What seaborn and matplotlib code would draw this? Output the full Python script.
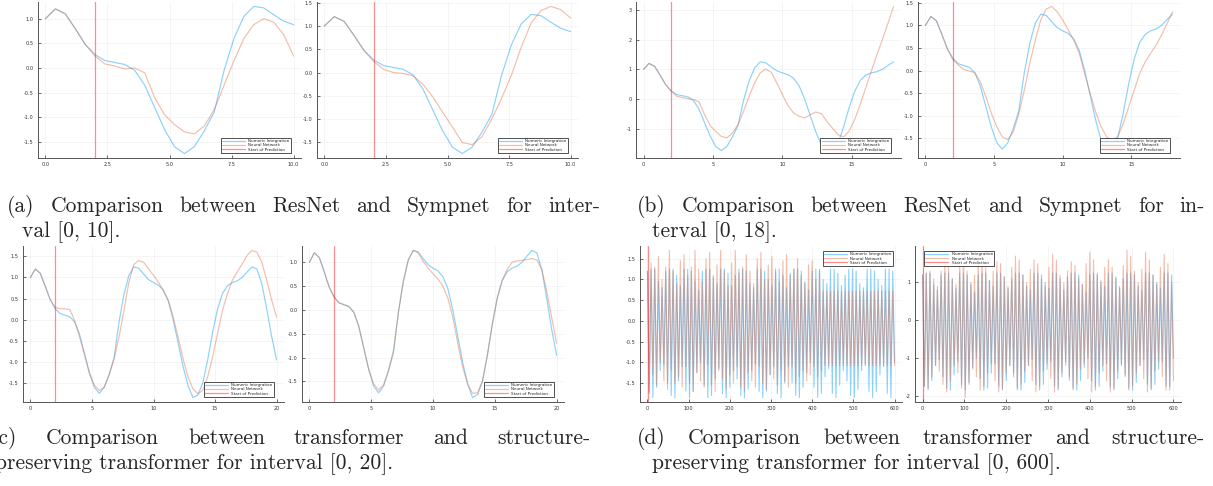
import numpy as np
import matplotlib
matplotlib.use("Agg")
import matplotlib.pyplot as plt
import seaborn as sns
from matplotlib.ticker import MultipleLocator, FormatStrFormatter

# ---- data ----
# short runs are sampled every 0.4 time units
numeric = [1.0, 1.2, 1.1, 0.8, 0.48, 0.27, 0.15, 0.11, 0.07, -0.05,
           -0.35, -0.8, -1.25, -1.6, -1.74, -1.6, -1.28, -0.9, -0.05, 0.6,
           1.05, 1.25, 1.22, 1.08, 0.95, 0.88, 0.82, 0.7, 0.45, 0.0,
           -0.55, -1.1, -1.55, -1.84, -1.78, -1.5, -0.95, -0.3, 0.25, 0.62,
           0.8, 0.88, 0.92, 1.0, 1.13, 1.25, 1.2, 0.85, 0.25, -0.4, -0.95]

resnet_10 = [1.0, 1.2, 1.1, 0.8, 0.48, 0.24, 0.08, 0.04, -0.02, 0.0,
             -0.1, -0.6, -0.95, -1.15, -1.3, -1.34, -1.18, -0.85, -0.35, 0.15,
             0.6, 0.88, 1.0, 0.93, 0.68, 0.24]
sympnet_10 = [1.0, 1.2, 1.1, 0.8, 0.48, 0.24, 0.07, 0.0, -0.02, -0.07,
              -0.25, -0.52, -0.85, -1.17, -1.5, -1.55, -1.38, -1.0, -0.55, -0.05,
              0.55, 1.07, 1.33, 1.42, 1.35, 1.17]
resnet_18 = [1.0, 1.2, 1.1, 0.8, 0.48, 0.26, 0.09, 0.05, 0.01, -0.02,
             -0.1, -0.53, -0.9, -1.09, -1.26, -1.31, -1.15, -0.87, -0.42, 0.09,
             0.54, 0.88, 1.01, 0.9, 0.54, 0.15, -0.22, -0.47, -0.58, -0.64,
             -0.53, -0.44, -0.49, -0.75, -0.98, -1.2, -1.28, -1.09, -0.7, -0.19,
             0.37, 0.93, 1.49, 2.0, 2.55, 3.12]
sympnet_18 = [1.0, 1.2, 1.1, 0.8, 0.48, 0.24, 0.12, 0.02, -0.01, -0.05,
              -0.25, -0.58, -0.95, -1.25, -1.47, -1.53, -1.36, -0.96, -0.44, 0.16,
              0.67, 1.12, 1.36, 1.42, 1.3, 1.12, 0.9, 0.67, 0.38, -0.07,
              -0.51, -0.92, -1.25, -1.47, -1.55, -1.47, -1.18, -0.81, -0.44, -0.07,
              0.19, 0.38, 0.56, 0.79, 1.04, 1.3]
transformer_20 = [1.0, 1.2, 1.1, 0.8, 0.48, 0.3, 0.26, 0.26, 0.24, -0.02,
                  -0.41, -0.84, -1.28, -1.55, -1.67, -1.59, -1.31, -0.92, -0.41, 0.22,
                  0.89, 1.31, 1.4, 1.36, 1.2, 1.05, 0.89, 0.69, 0.46, 0.06,
                  -0.41, -0.92, -1.35, -1.63, -1.75, -1.67, -1.35, -0.88, -0.33, 0.22,
                  0.61, 0.93, 1.13, 1.32, 1.52, 1.64, 1.6, 1.36, 0.93, 0.46, 0.06]
spt_20 = [1.0, 1.2, 1.1, 0.8, 0.48, 0.27, 0.15, 0.11, 0.07, -0.05,
          -0.35, -0.8, -1.25, -1.55, -1.68, -1.57, -1.27, -0.85, -0.05, 0.6,
          1.05, 1.25, 1.2, 1.02, 0.88, 0.76, 0.65, 0.5, 0.25, -0.15,
          -0.7, -1.2, -1.55, -1.75, -1.74, -1.5, -0.95, -0.3, 0.25, 0.62,
          0.85, 1.0, 1.03, 1.04, 1.06, 1.08, 1.05, 0.85, 0.4, -0.15, -0.7]

# long run over [0, 600]: successive peaks and troughs of each cycle
blue_peaks = [1.2, 1.25, 1.25, 0.95, 0.8, 1.2, 1.25, 1.25, 1.1, 0.85,
              1.25, 1.25, 1.2, 0.95, 0.75, 1.2, 1.25, 1.25, 1.05, 0.9,
              1.25, 1.25, 1.15, 0.85, 1.1, 1.25, 1.25, 1.2, 0.9, 0.8,
              1.25, 1.25, 1.2, 1.0, 0.85, 1.25, 1.25, 1.1, 0.8, 1.15,
              1.25, 1.25, 1.2, 0.95, 0.75, 1.2, 1.25, 1.25, 1.0, 0.9,
              1.25, 1.25, 1.15, 0.85, 1.1, 1.25, 1.25, 1.2, 0.9, 0.8,
              1.25, 1.25, 1.2, 1.0, 0.85, 1.25, 1.25, 1.2]
blue_troughs = [-1.75, -1.85, -1.6, -1.2, -1.05, -1.5, -1.8, -1.85, -1.45, -1.1,
                -1.7, -1.85, -1.7, -1.25, -1.0, -1.55, -1.85, -1.8, -1.4, -1.15,
                -1.75, -1.85, -1.6, -1.2, -1.4, -1.8, -1.85, -1.65, -1.2, -1.05,
                -1.7, -1.85, -1.7, -1.3, -1.1, -1.75, -1.85, -1.5, -1.1, -1.5,
                -1.8, -1.85, -1.6, -1.25, -1.0, -1.6, -1.85, -1.75, -1.35, -1.15,
                -1.75, -1.85, -1.55, -1.2, -1.45, -1.8, -1.85, -1.65, -1.2, -1.05,
                -1.7, -1.85, -1.7, -1.3, -1.1, -1.75, -1.85, -1.0]
tf_peaks = [1.2, 1.4, 1.3, 1.55, 1.0, 1.3, 1.7, 1.2, 0.9, 1.45,
            1.6, 1.1, 1.3, 1.7, 1.25, 0.95, 1.5, 1.65, 1.1, 1.35,
            1.7, 1.2, 0.85, 1.4, 1.7, 1.15, 1.3, 1.6, 1.2, 0.9,
            1.5, 1.65, 1.0, 1.35, 1.55, 1.2, 0.95, 1.45, 1.6, 1.1,
            1.25, 1.5, 1.1, 0.9, 1.35, 1.45, 1.0, 1.2] + [0.72] * 20
tf_troughs = [-1.7, -1.3, -1.55, -1.0, -1.45, -1.65, -1.2, -1.5, -1.35, -1.6,
              -1.1, -1.5, -1.7, -1.25, -1.45, -1.6, -1.05, -1.55, -1.7, -1.2,
              -1.4, -1.65, -1.3, -1.5, -1.1, -1.6, -1.7, -1.25, -1.45, -1.6,
              -1.1, -1.5, -1.65, -1.3, -1.4, -1.55, -1.2, -1.45, -1.6, -1.1,
              -1.5, -1.35, -1.2, -1.45, -1.3, -1.1, -1.35, -1.2] + [-1.08] * 20
spt_peaks = [1.2, 1.25, 1.3, 1.1, 0.9, 1.3, 1.6, 1.4, 1.1, 0.95,
             1.5, 1.7, 1.3, 1.0, 1.2, 1.6, 1.8, 1.4, 1.05, 1.3,
             1.55, 1.5, 1.15, 0.9, 1.4, 1.7, 1.6, 1.2, 1.0, 1.35,
             1.6, 1.5, 1.1, 0.9, 1.4, 1.75, 1.6, 1.2, 1.0, 1.3,
             1.55, 1.45, 1.1, 0.95, 1.5, 1.8, 1.6, 1.2, 1.05, 1.4,
             1.6, 1.4, 1.1, 0.9, 1.45, 1.85, 1.7, 1.3, 1.0, 1.35,
             1.8, 1.6, 1.2, 0.95, 1.4, 1.75, 1.5, 1.0]
spt_troughs = [-1.75, -1.8, -1.5, -1.2, -1.35, -1.7, -1.9, -1.6, -1.2, -1.4,
               -1.8, -2.05, -1.65, -1.3, -1.5, -1.85, -1.75, -1.4, -1.15, -1.6,
               -1.9, -1.8, -1.4, -1.2, -1.5, -1.85, -1.7, -1.35, -1.2, -1.6,
               -1.9, -1.75, -1.35, -1.15, -1.55, -1.9, -1.8, -1.4, -1.2, -1.6,
               -1.85, -1.7, -1.3, -1.15, -1.55, -1.9, -1.75, -1.4, -1.2, -1.6,
               -1.9, -1.8, -1.35, -1.15, -1.5, -1.85, -1.75, -1.4, -1.2, -1.55,
               -1.9, -1.8, -1.35, -1.1, -1.5, -1.85, -1.75, -1.6]

labels = ["Numeric Integration", "Neural Network", "Start of Prediction"]
t_start = 2.0


def zigzag(peaks, troughs):
    return np.column_stack([peaks, troughs]).ravel()


sns.set_theme(style="white")
plt.rcParams["font.family"] = ["DejaVu Sans"]

W, H = 1213, 486
fig = plt.figure(figsize=(W / 100, H / 100), dpi=100)

BLUE = "#009AFA"
ORANGE = "#E36F47"


def rect(l, r, t, b):
    return [l / W, 1 - b / H, (r - l) / W, (b - t) / H]


def panel(box, t, truth, pred, xstep, xfmt, ystep, yfmt, loc, anchor, lw=0.85):
    ax = fig.add_axes(rect(*box))
    sns.lineplot(x=t, y=truth, ax=ax, color=BLUE, alpha=0.45, linewidth=lw,
                 label=labels[0])
    sns.lineplot(x=t, y=pred, ax=ax, color=ORANGE, alpha=0.45, linewidth=lw,
                 label=labels[1])
    ax.axvline(t_start, color="red", alpha=0.45, linewidth=0.9, label=labels[2])
    ax.margins(x=0.03, y=0.03)
    ax.xaxis.set_major_locator(MultipleLocator(xstep))
    ax.yaxis.set_major_locator(MultipleLocator(ystep))
    ax.xaxis.set_major_formatter(FormatStrFormatter(xfmt))
    ax.yaxis.set_major_formatter(FormatStrFormatter(yfmt))
    ax.grid(True, color="black", alpha=0.06, linewidth=0.5)
    ax.set_xlabel("")
    ax.set_ylabel("")
    ax.tick_params(labelsize=3.6, length=2, width=0.5, direction="in",
                   colors="#333333", pad=3, left=True, bottom=True)
    sns.despine(ax=ax)
    for s in ("left", "bottom"):
        ax.spines[s].set_color("#555555")
        ax.spines[s].set_linewidth(0.7)
    leg = ax.legend(loc=loc, bbox_to_anchor=anchor, borderaxespad=0,
                    fontsize=3.0, frameon=True, fancybox=False,
                    edgecolor="#333333", framealpha=1, handlelength=5.5,
                    borderpad=0.35, labelspacing=0.05, handletextpad=0.8)
    leg.get_frame().set_linewidth(0.6)
    for h in leg.get_lines():
        h.set_linewidth(0.9)
    return ax


t10 = np.arange(len(resnet_10)) * 0.4
t18 = np.arange(len(resnet_18)) * 0.4
t20 = np.arange(len(numeric)) * 0.4
blue600 = zigzag(blue_peaks, blue_troughs)
t600 = np.linspace(0, 600, len(blue600))

lr = ("lower right", (1 - 10 / 262, 5 / 156))
panel((38, 301, 2, 158), t10, numeric[:len(t10)], resnet_10, 2.5, "%.1f", 0.5, "%.1f", *lr)
panel((317, 578, 2, 158), t10, numeric[:len(t10)], sympnet_10, 2.5, "%.1f", 0.5, "%.1f", *lr)
panel((636, 901, 2, 158), t18, numeric[:len(t18)], resnet_18, 5, "%d", 1, "%d", *lr)
panel((918, 1180, 2, 158), t18, numeric[:len(t18)], sympnet_18, 5, "%d", 0.5, "%.1f", *lr)
panel((23, 284, 246, 402), t20, numeric, transformer_20, 5, "%d", 0.5, "%.1f", *lr)
panel((302, 564, 246, 402), t20, numeric, spt_20, 5, "%d", 0.5, "%.1f", *lr)
panel((640, 902, 246, 402), t600, blue600, zigzag(tf_peaks, tf_troughs), 100, "%d", 0.5, "%.1f",
      "upper right", (1 - 9 / 262, 1 - 5 / 156), lw=0.8)
panel((915, 1181, 246, 402), t600, blue600, zigzag(spt_peaks, spt_troughs), 100, "%d", 1, "%d",
      "upper left", (9 / 266, 1 - 5 / 156), lw=0.8)

# ---- captions (justified first lines, like the LaTeX source) ----
fig.canvas.draw()
renderer = fig.canvas.get_renderer()
CAP = 15.5


def caption(text, x0, base, x1=None):
    if x1 is None:
        fig.text(x0 / W, 1 - base / H, text, fontsize=CAP, family="cmr10", va="baseline")
        return
    words = text.split(" ")
    items = [fig.text(0, 1 - base / H, w, fontsize=CAP, family="cmr10", va="baseline")
             for w in words]
    widths = [it.get_window_extent(renderer=renderer).width for it in items]
    gap = (x1 - x0 - sum(widths)) / (len(words) - 1)
    x = x0
    for it, wd in zip(items, widths):
        it.set_x(x / W)
        x += wd + gap


caption("(a) Comparison between ResNet and Sympnet for inter-", 7, 212, 600)
caption("val [0, 10].", 22, 237)
caption("(b) Comparison between ResNet and Sympnet for in-", 637, 212, 1205)
caption("terval [0, 18].", 652, 237)
caption("(c) Comparison between transformer and structure-", -9, 444, 590)
caption("preserving transformer for interval [0, 20].", -5, 469)
caption("(d) Comparison between transformer and structure-", 637, 444, 1205)
caption("preserving transformer for interval [0, 600].", 652, 469)

fig.savefig("out.png", dpi=100)
